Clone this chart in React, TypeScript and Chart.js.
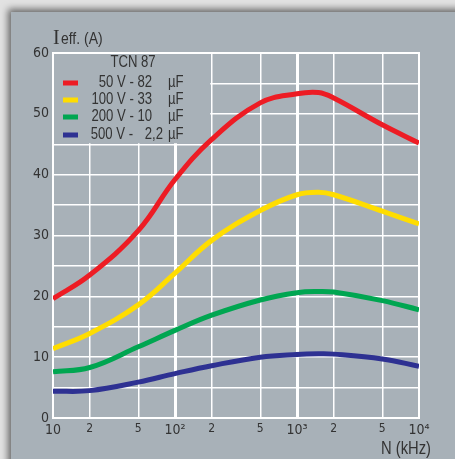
import { useEffect, useRef } from "react";
import { Chart, registerables } from "chart.js";

Chart.register(...registerables);

// Frequency (kHz) sample points and effective current (A) for each capacitor rating
const frequencies = [10, 20, 50, 100, 200, 500, 1000, 1500, 2000, 5000, 10000];
const current50V = [19.6, 23.5, 30.8, 39.2, 45.8, 51.8, 53.3, 53.5, 52.6, 48.2, 45.2];
const current100V = [11.4, 13.9, 18.6, 23.8, 29.2, 34.1, 36.7, 37.1, 36.7, 34.0, 31.9];
const current200V = [7.6, 8.3, 11.7, 14.4, 16.9, 19.4, 20.6, 20.8, 20.7, 19.3, 17.8];
const current500V = [4.4, 4.5, 5.9, 7.3, 8.6, 10.0, 10.45, 10.55, 10.5, 9.7, 8.5];

const seriesVoltage = ["50 V - 82", "100 V - 33", "200 V - 10", "500 V -"];
const seriesCapacity = ["", "", "", "2,2"];
const seriesColors = ["#ed1c24", "#ffdd00", "#00a651", "#2e3192"];
const seriesValues = [current50V, current100V, current200V, current500V];

const xTickValues = [10, 20, 50, 100, 200, 500, 1000, 2000, 5000, 10000];
const xTickLabels = ["10", "2", "5", "10²", "2", "5", "10³", "2", "5", "10⁴"];
const decadeTicks = [10, 100, 1000, 10000];

const legendTitle = "TCN 87";
const unitLabel = "µF";
const yTitle = "eff. (A)";
const xTitle = "N (kHz)";

const PANEL = "#a8b1b8";
const INK = "#333333";
const TICK_FONT = '"DejaVu Sans Condensed", "DejaVu Sans", sans-serif';
const SANS = '"Liberation Sans", Arial, sans-serif';

// draws text squeezed horizontally, giving a condensed face
function narrowText(ctx: CanvasRenderingContext2D, text: string, x: number, y: number, align: CanvasTextAlign) {
  ctx.save();
  ctx.translate(x, y);
  ctx.scale(0.82, 1);
  ctx.textAlign = align;
  ctx.fillText(text, 0, 0);
  ctx.restore();
}

const decorations = {
  id: "decorations",
  beforeDatasetsDraw(chart: any) {
    const { ctx, chartArea: a, scales } = chart;
    const bx = scales.x.getPixelForValue(200);
    const by = scales.y.getPixelForValue(45);
    ctx.save();
    // clear the grid behind the legend block
    ctx.fillStyle = PANEL;
    ctx.fillRect(a.left + 1, a.top + 1, bx - a.left - 2.5, by - a.top - 2);
    // closed white frame around the plot
    ctx.strokeStyle = "#ffffff";
    ctx.lineWidth = 2;
    ctx.strokeRect(a.left, a.top, a.right - a.left, a.bottom - a.top);

    ctx.fillStyle = INK;
    ctx.font = `16px ${SANS}`;
    ctx.textBaseline = "middle";
    narrowText(ctx, legendTitle, a.left + 80, a.top + 10, "center");
    const rowY = [30, 47, 64, 82];
    seriesVoltage.forEach((label, i) => {
      const y = a.top + rowY[i];
      ctx.fillStyle = seriesColors[i];
      ctx.fillRect(a.left + 10, y - 2.5, 15, 5);
      ctx.fillStyle = INK;
      if (seriesCapacity[i]) {
        narrowText(ctx, label, a.left + 80, y, "right");
        narrowText(ctx, seriesCapacity[i], a.left + 110, y, "right");
      } else {
        narrowText(ctx, label, a.left + 99, y, "right");
      }
      narrowText(ctx, unitLabel, a.left + 115, y, "left");
    });
    ctx.restore();
  },
  afterDraw(chart: any) {
    const { ctx, chartArea: a } = chart;
    ctx.save();
    ctx.fillStyle = INK;
    ctx.textBaseline = "alphabetic";
    ctx.font = '20px "Liberation Serif", serif';
    ctx.textAlign = "left";
    ctx.fillText("I", a.left, a.top - 9);
    ctx.font = `17px ${SANS}`;
    narrowText(ctx, yTitle, a.left + 8, a.top - 9, "left");
    ctx.font = `18px ${SANS}`;
    narrowText(ctx, xTitle, a.right + 12, a.bottom + 36, "right");
    ctx.restore();
  },
};

export default function App() {
  const canvasRef = useRef<HTMLCanvasElement>(null);

  useEffect(() => {
    const canvas = canvasRef.current;
    if (!canvas) return;
    const chart = new Chart(canvas, {
      type: "line",
      data: {
        datasets: seriesValues.map((values, i) => ({
          label: seriesVoltage[i],
          data: frequencies.map((f, j) => ({ x: f, y: values[j] })),
          borderColor: seriesColors[i],
          borderWidth: 5,
          pointRadius: 0,
          tension: 0.4,
          fill: false,
        })),
      },
      options: {
        animation: false,
        responsive: false,
        devicePixelRatio: 1,
        layout: { padding: { top: 53, right: 36, left: 0, bottom: 0 } },
        plugins: { legend: { display: false }, tooltip: { enabled: false } },
        scales: {
          x: {
            type: "logarithmic",
            min: 10,
            max: 10000,
            afterBuildTicks: (s: any) => {
              s.ticks = xTickValues.map((v) => ({ value: v }));
            },
            afterFit: (s: any) => {
              s.height = 41;
            },
            ticks: {
              autoSkip: false,
              maxRotation: 0,
              padding: 4,
              color: INK,
              font: (c: any) => ({
                family: TICK_FONT,
                size: c.tick && decadeTicks.includes(c.tick.value) ? 14 : 12,
              }),
              callback: (v: any) => xTickLabels[xTickValues.indexOf(Number(v))] ?? "",
            },
            grid: {
              color: "#ffffff",
              lineWidth: (c: any) =>
                c.tick && (c.tick.value === 100 || c.tick.value === 1000) ? 3 : 1.5,
              drawTicks: false,
            },
            border: { display: false },
          },
          y: {
            type: "linear",
            min: 0,
            max: 60,
            afterFit: (s: any) => {
              s.width = 53;
            },
            ticks: {
              stepSize: 5,
              padding: 4,
              color: INK,
              font: { family: TICK_FONT, size: 14 },
              callback: (v: any) => (Number(v) % 10 === 0 ? String(v) : ""),
            },
            grid: { color: "#ffffff", lineWidth: 1.5, drawTicks: false },
            border: { display: false },
          },
        },
      },
      plugins: [decorations],
    });
    return () => chart.destroy();
  }, []);

  return (
    <div
      style={{
        position: "fixed",
        left: 0,
        top: 0,
        width: 455,
        height: 459,
        overflow: "hidden",
        background: "#e2e2e2",
      }}
    >
      <div
        style={{
          position: "absolute",
          left: 11,
          top: 12,
          width: 460,
          height: 460,
          background: PANEL,
          boxShadow: "-3px -3px 7px rgba(0,0,0,0.55)",
        }}
      />
      <canvas
        ref={canvasRef}
        width={455}
        height={459}
        style={{ position: "absolute", left: 0, top: 0 }}
      />
    </div>
  );
}
